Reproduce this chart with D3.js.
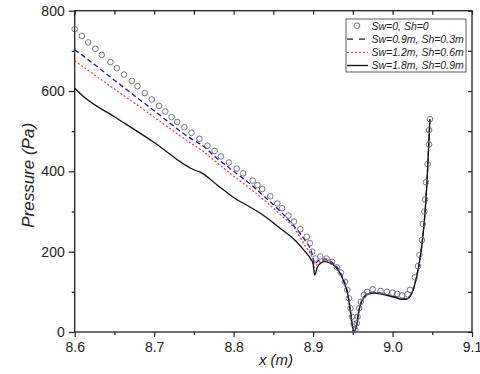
<!DOCTYPE html>
<html>
<head>
<meta charset="utf-8">
<script src="https://cdn.jsdelivr.net/npm/d3@7"></script>
<style>
  html, body { margin: 0; padding: 0; background: #fff; }
  svg { display: block; font-family: "Liberation Sans", Arial, sans-serif; }
</style>
</head>
<body>
<svg id="chart" width="480" height="374"></svg>
<script>
// ---------- data ----------
const xTicks = [8.6, 8.7, 8.8, 8.9, 9.0, 9.1];
const xMinorTicks = [8.65, 8.75, 8.85, 8.95, 9.05];
const yTicks = [0, 200, 400, 600, 800];
const yMinorTicks = [100, 300, 500, 700];

const seriesNames = ["Sw=0, Sh=0", "Sw=0.9m, Sh=0.3m", "Sw=1.2m, Sh=0.6m", "Sw=1.8m, Sh=0.9m"];

// Sw=0, Sh=0 (circles)
const circleX = [8.600, 8.609, 8.617, 8.626, 8.634, 8.645, 8.653, 8.662, 8.672, 8.679,
  8.688, 8.697, 8.706, 8.714, 8.722, 8.729, 8.738, 8.747, 8.757, 8.767,
  8.776, 8.784, 8.794, 8.804, 8.812, 8.824, 8.830, 8.836, 8.846, 8.855,
  8.861, 8.869, 8.876, 8.884, 8.892, 8.896, 8.899, 8.903, 8.909, 8.917,
  8.924, 8.930, 8.935, 8.940, 8.943, 8.945, 8.947, 8.949, 8.951, 8.953,
  8.955, 8.956, 8.958, 8.960, 8.964, 8.968, 8.975, 8.985, 8.993, 9.000,
  9.006, 9.012, 9.019, 9.022, 9.028, 9.032, 9.034, 9.037, 9.038, 9.040,
  9.041, 9.042, 9.044, 9.046, 9.046, 9.047];
const circleP = [754, 737, 721, 705, 690, 672, 657, 641, 625, 612,
  595, 579, 563, 549, 535, 523, 510, 496, 481, 464,
  451, 437, 422, 407, 395, 377, 366, 356, 338, 320,
  308, 290, 275, 256, 237, 221, 200, 183, 188, 183,
  175, 161, 148, 125, 105, 84, 59, 38, 20, 5,
  22, 38, 59, 75, 92, 100, 106, 102, 100, 98,
  95, 91, 94, 105, 136, 164, 192, 229, 269, 300,
  330, 373, 418, 467, 503, 530];

// x positions shared by the three line series
const lineX = [8.600, 8.613, 8.650, 8.700, 8.750, 8.758, 8.780, 8.800, 8.820, 8.840,
  8.860, 8.875, 8.890, 8.897, 8.900, 8.902, 8.905, 8.910, 8.915, 8.920,
  8.925, 8.930, 8.935, 8.940, 8.944, 8.947, 8.949, 8.951, 8.953, 8.955,
  8.957, 8.960, 8.965, 8.970, 8.977, 8.985, 8.995, 9.005, 9.012, 9.018,
  9.022, 9.026, 9.030, 9.034, 9.038, 9.041, 9.044, 9.047];

// Sw=0.9m, Sh=0.3m (blue dashed)
const blueP = [703, 684, 627, 551, 477, 468, 431, 400, 370, 335,
  298, 266, 228, 205, 185, 168, 175, 180, 182, 178,
  172, 162, 146, 122, 92, 52, 20, 2, 4, 18,
  45, 72, 90, 97, 99, 97, 92, 87, 83, 84,
  90, 106, 136, 176, 236, 301, 401, 530];

// Sw=1.2m, Sh=0.6m (red dotted)
const redP = [675, 657, 605, 535, 465, 455, 420, 388, 358, 326,
  290, 262, 215, 193, 180, 160, 168, 177, 179, 176,
  170, 160, 144, 120, 91, 51, 20, 2, 4, 18,
  45, 71, 89, 96, 98, 96, 91, 86, 82, 83,
  89, 105, 135, 175, 235, 300, 400, 530];

// Sw=1.8m, Sh=0.9m (black solid)
const blackP = [607, 583, 536, 472, 404, 398, 365, 335, 312, 287,
  256, 233, 200, 182, 170, 142, 160, 172, 175, 173,
  168, 158, 142, 118, 90, 50, 20, 2, 5, 18,
  45, 70, 88, 95, 97, 95, 90, 85, 81, 82,
  88, 105, 135, 175, 235, 300, 400, 530];

// ---------- layout ----------
const svg = d3.select("#chart");
const mLeft = 74.7, mRight = 472, mTop = 10.7, mBottom = 332;
const x = d3.scaleLinear().domain([8.6, 9.1]).range([mLeft, mRight]);
const y = d3.scaleLinear().domain([0, 800]).range([mBottom, mTop]);
const axisColor = "#222";

// frame
svg.append("rect")
  .attr("x", mLeft).attr("y", mTop)
  .attr("width", mRight - mLeft).attr("height", mBottom - mTop)
  .attr("fill", "none").attr("stroke", axisColor).attr("stroke-width", 1.3);

function styleAxis(g) {
  g.select(".domain").remove();
  g.selectAll(".tick line").attr("stroke", axisColor).attr("stroke-width", 1.2);
  g.selectAll(".tick text").attr("fill", "#222").style("font-size", "14px")
    .style("font-family", "'Liberation Sans', Arial, sans-serif");
}

// bottom
svg.append("g").attr("transform", `translate(0,${mBottom})`)
  .call(d3.axisBottom(x).tickValues(xTicks).tickSize(5).tickPadding(5).tickFormat(d3.format(".1f")))
  .call(styleAxis);
svg.append("g").attr("transform", `translate(0,${mBottom})`)
  .call(d3.axisBottom(x).tickValues(xMinorTicks).tickSize(3).tickFormat(""))
  .call(styleAxis);
// left
svg.append("g").attr("transform", `translate(${mLeft},0)`)
  .call(d3.axisLeft(y).tickValues(yTicks).tickSize(6).tickPadding(4).tickFormat(d3.format("d")))
  .call(styleAxis);
svg.append("g").attr("transform", `translate(${mLeft},0)`)
  .call(d3.axisLeft(y).tickValues(yMinorTicks).tickSize(3).tickFormat(""))
  .call(styleAxis);
// top (inward)
svg.append("g").attr("transform", `translate(0,${mTop})`)
  .call(d3.axisTop(x).tickValues(xTicks.concat(xMinorTicks)).tickSize(-4).tickFormat(""))
  .call(styleAxis);
// right (inward)
svg.append("g").attr("transform", `translate(${mRight},0)`)
  .call(d3.axisRight(y).tickValues(yTicks.concat(yMinorTicks)).tickSize(-4).tickFormat(""))
  .call(styleAxis);

// axis titles
svg.append("text")
  .attr("transform", `translate(34,${(mTop + mBottom) / 2 + 4}) rotate(-90)`)
  .attr("text-anchor", "middle")
  .style("font-size", "17px").style("font-style", "italic").attr("fill", "#222")
  .text("Pressure (Pa)");
svg.append("text")
  .attr("x", 276).attr("y", 365)
  .attr("text-anchor", "middle")
  .style("font-size", "15px").style("font-style", "italic").attr("fill", "#222")
  .text("x (m)");

// ---------- lines ----------
const styles = [
  { color: "#666677", dash: null },
  { color: "#1c1c8c", dash: "5,3", width: 1.3 },
  { color: "#d9423a", dash: "2,2", width: 1.2 },
  { color: "#111111", dash: null, width: 1.3 }
];
const lineSeries = [blueP, redP, blackP];
const lineGen = d3.line().x(d => x(d[0])).y(d => y(d[1])).curve(d3.curveMonotoneX);

lineSeries.forEach((vals, i) => {
  const st = styles[i + 1];
  svg.append("path")
    .datum(lineX.map((xv, j) => [xv, vals[j]]))
    .attr("d", lineGen)
    .attr("fill", "none")
    .attr("stroke", st.color)
    .attr("stroke-width", st.width)
    .attr("stroke-dasharray", st.dash);
});

// circles (drawn on top)
svg.append("g").selectAll("circle")
  .data(circleX.map((xv, j) => [xv, circleP[j]]))
  .join("circle")
  .attr("cx", d => x(d[0])).attr("cy", d => y(d[1]))
  .attr("r", 2.8)
  .attr("fill", "none")
  .attr("stroke", styles[0].color)
  .attr("stroke-width", 0.9);

// ---------- legend ----------
const lg = svg.append("g");
lg.append("rect")
  .attr("x", 346).attr("y", 19).attr("width", 120).attr("height", 53)
  .attr("fill", "#fff").attr("stroke", "#333").attr("stroke-width", 0.8);
const rowY = [25.7, 39.2, 52.5, 65.5];
seriesNames.forEach((name, i) => {
  const st = styles[i];
  if (i === 0) {
    lg.append("circle").attr("cx", 357).attr("cy", rowY[i]).attr("r", 2.8)
      .attr("fill", "none").attr("stroke", st.color).attr("stroke-width", 0.9);
  } else {
    lg.append("line").attr("x1", 347).attr("x2", 368)
      .attr("y1", rowY[i]).attr("y2", rowY[i])
      .attr("stroke", i === 1 ? "#222244" : st.color)
      .attr("stroke-width", st.width)
      .attr("stroke-dasharray", i === 1 ? "6,6" : st.dash);
  }
  lg.append("text")
    .attr("x", 371.5).attr("y", rowY[i] + 3.8)
    .style("font-size", "10.5px").style("font-style", "italic").attr("fill", "#222")
    .text(name);
});
</script>
</body>
</html>
